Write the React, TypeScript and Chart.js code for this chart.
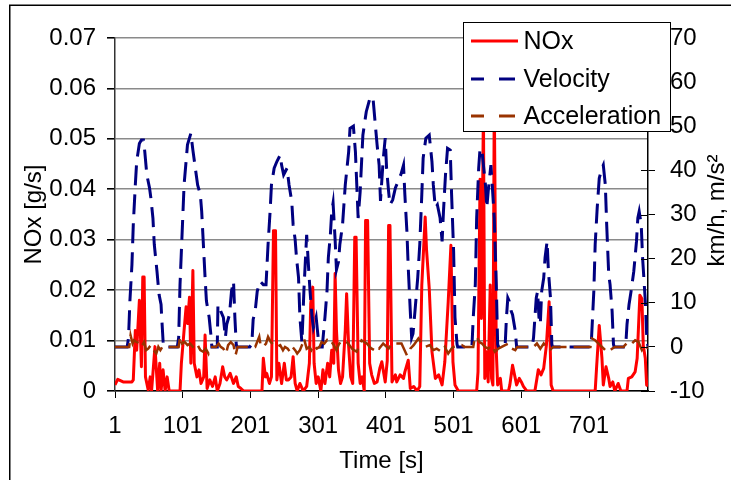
import React, { useEffect, useRef } from 'react';
import { Chart, registerables } from 'chart.js';

Chart.register(...registerables);

// ---- axis ticks ----
const X_TICKS = [1, 101, 201, 301, 401, 501, 601, 701];
const NOX_TICKS = [0, 0.01, 0.02, 0.03, 0.04, 0.05, 0.06, 0.07];
const RIGHT_TICKS = [-10, 0, 10, 20, 30, 40, 50, 60, 70];

// ---- series labels ----
const SERIES = ['NOx', 'Velocity', 'Acceleration'];
const X_TITLE = 'Time [s]';
const LEFT_TITLE = 'NOx [g/s]';
const RIGHT_TITLE = 'km/h, m/s²';

// ---- NOx [g/s] (time, value) ----
const NOX_T = [
  1, 5, 13, 21, 26, 28, 31, 33, 37, 40, 42, 44, 46, 50, 53, 55, 60, 64, 67, 69, 72, 75, 78, 81, 97,
  99, 103, 106, 108, 111, 113, 116, 118, 122, 125, 128, 132, 134, 137, 141, 145, 149, 152, 156, 160, 163, 166, 171, 176, 180, 183, 187, 191, 218,
  220, 223, 225, 229, 232, 235, 238, 240, 243, 247, 251, 254, 257, 261, 264, 267, 270, 274, 279, 284, 288, 290, 293, 295, 298,
  301, 305, 308, 311, 315, 318, 321, 324, 326, 328, 331, 334, 337, 341, 343, 346, 349, 352, 355, 357, 360, 363, 366, 369, 371, 374, 377, 380, 384, 388, 392, 395,
  400, 403, 405, 407, 410, 415, 417, 422, 427, 429, 434, 437, 442, 447, 451, 454, 459, 461, 465, 469, 474, 479, 484, 488, 493, 497,
  500, 503, 508, 535, 537, 540, 542, 545, 547, 550, 552, 555, 557, 559, 561, 564, 566, 570, 572, 582, 584, 588, 592, 594, 598,
  601, 604, 609, 621, 624, 626, 630, 634, 638, 642, 645, 648, 710, 712, 716, 720, 722, 726, 730, 732, 736, 739, 744, 748, 757, 759, 764, 769, 772, 776, 779, 781, 784, 786, 788,
];
const NOX = [
  0.0012, 0.0023, 0.0018, 0.0018, 0.0018, 0.0022, 0.012, 0.0081, 0.018, 0.0048, 0.0226, 0.0226, 0.0028, 0.0002, 0.0028, 0, 0.0088, 0, 0.0055, 0, 0.0042, 0, 0.0028, 0, 0,
  0.0055, 0.012, 0.0167, 0.0134, 0.0186, 0.0055, 0.0239, 0.0055, 0.0028, 0.0042, 0.0015, 0.0028, 0.0111, 0.0005, 0.0022, 0.0009, 0.0028, 0, 0.0015, 0.0048, 0.0028, 0.0022, 0.0035, 0.0015, 0.0028, 0.0009, 0.0005, 0, 0,
  0.0065, 0.0028, 0.0035, 0.0015, 0.0028, 0.0318, 0.0318, 0.0022, 0.0055, 0.0015, 0.0055, 0.0022, 0.0022, 0.0028, 0.0068, 0.0015, 0, 0.0015, 0, 0.0009, 0.0055, 0.0173, 0.0206, 0.0055, 0.0015,
  0.0028, 0, 0.0042, 0.0015, 0.0055, 0.0028, 0.0081, 0.0055, 0.0233, 0.0121, 0.0042, 0.0015, 0.0028, 0.0121, 0.0193, 0.0088, 0.0028, 0.0015, 0.0305, 0.0305, 0.0055, 0.0015, 0.0028, 0, 0.0338, 0.0338, 0.0055, 0.0032, 0.0015, 0.0018, 0.0045, 0.0058,
  0.0018, 0.006, 0.0328, 0.0328, 0.0018, 0.0032, 0.0018, 0.0032, 0.0025, 0.0038, 0.0061, 0.0005, 0.0009, 0, 0.0009, 0.021, 0.0345, 0.028, 0.0203, 0.0078, 0.0025, 0.0032, 0.0012, 0.0058, 0.0177, 0.0289,
  0.0058, 0.0012, 0, 0, 0.0038, 0.042, 0.0144, 0.056, 0.0025, 0.0078, 0.0018, 0.021, 0.0025, 0.0012, 0.058, 0.0078, 0.0012, 0.0025, 0, 0, 0.0012, 0.0051, 0.0025, 0.0012, 0.0025,
  0.0018, 0.0009, 0, 0, 0.0025, 0.0042, 0.0032, 0.0045, 0.0091, 0.0177, 0.0012, 0, 0, 0.0045, 0.013, 0.0065, 0.0012, 0.0048, 0.0025, 0.0009, 0.0018, 0, 0.0015, 0, 0, 0.0025, 0.0028, 0.0038, 0.0065, 0.019, 0.0183, 0.0091, 0.0065, 0.0012, 0.001,
];

// ---- Velocity [km/h] (time, value) ----
const VEL_T = [
  1, 19, 21, 23, 26, 28, 31, 33, 37, 40, 43, 45, 48, 52, 54, 57, 59, 63, 66, 69, 70, 72, 73, 93,
  95, 97, 100, 103, 108, 113, 116, 119, 123, 127, 129, 131, 134, 136, 140, 143, 144, 152,
  153, 156, 161, 164, 166, 170, 173, 176, 178, 180, 181, 200,
  203, 205, 208, 211, 215, 220, 224, 227, 230, 232, 236, 240, 245, 247, 250, 255, 258, 262, 264, 267, 269, 272, 274, 277,
  280, 284, 287, 289, 292, 294, 298, 301, 304, 307, 311, 314, 316, 319, 321, 323, 326, 328, 331, 333, 337, 341, 346, 348,
  353, 356, 358, 360, 363, 367, 372, 378, 382, 385, 388, 391, 393, 397, 400, 402, 405, 407, 411, 415, 419, 423, 427, 429,
  432, 434, 437, 439, 441, 444, 448, 451, 454, 456, 460, 465, 469, 471, 474, 477, 481, 484, 486, 489, 492, 496, 498,
  501, 503, 506, 507, 528, 530, 533, 535, 538, 540, 543, 545, 548, 550, 552, 556, 558, 561, 564, 566, 567, 577,
  579, 581, 583, 586, 588, 592, 594, 617, 619, 623, 625, 627, 629, 631, 634, 636, 639, 641, 644, 646, 647,
  704, 708, 710, 713, 716, 720, 722, 725, 727, 730, 732, 735, 737, 738, 755, 757, 760, 763, 767, 771, 773, 775, 778, 780, 784, 786, 788,
];
const VEL = [
  0, 0, 2.1, 10.4, 18.6, 27.7, 36.7, 42, 46.1, 46.9, 46.9, 44.2, 39, 36, 33.7, 29.2, 23.2, 17.1, 11.9, 9.6, 6.6, 1.3, 0, 0,
  2.1, 14.1, 25.4, 36.7, 45.8, 48.4, 44.6, 41.2, 36.7, 34.5, 30.7, 24.7, 15.7, 10.4, 6.7, 2.1, 0, 0,
  9.6, 8.5, 6.7, 2.1, 5.1, 7.3, 12.6, 14.9, 6.7, 0.6, 0, 0,
  0.6, 6.2, 8.1, 12.6, 14.9, 14.1, 14.1, 23.2, 30.7, 36.7, 40.5, 42, 43.5, 41.2, 39, 40.5, 36.7, 32.9, 27.7, 24.3, 20.2, 15.7, 6.7, 1,
  13, 25.4, 17.5, 12.6, 6.7, 4.4, 6.7, 2.1, 0, 0, 6.7, 12.6, 20.2, 25.4, 30.7, 32.6, 24.3, 17.5, 19.3, 23.2, 27.7, 36.7, 44.2, 49.5,
  50, 44.2, 36.7, 29.2, 35.2, 48, 53.3, 56.7, 56.3, 51, 45.8, 41.2, 33.1, 42.4, 47.3, 40.5, 35.2, 32.2, 33.3, 36, 37.5, 39, 41.2, 34.5,
  26.2, 17.9, 8.1, 2.1, 3, 8.2, 15.7, 23.2, 34.5, 42.8, 47.3, 48, 42, 36.7, 31.5, 32.2, 29.2, 23.9, 30.7, 39, 45, 44.6, 34.5,
  21.6, 6.7, 0.6, 0, 0, 6.7, 14.1, 29.2, 40.5, 45, 44.2, 41.2, 36.7, 31.5, 35.2, 41.2, 36.7, 29.2, 14.1, 0.6, 0, 0,
  6.7, 11.1, 10.4, 8.1, 7.3, 3.6, 0, 0, 2.1, 11.1, 12.6, 6.7, 5.1, 12.6, 15.6, 20.2, 23.9, 17.1, 11.1, 0.6, 0,
  0, 12.6, 23.2, 31.5, 38.2, 40.5, 41.2, 36.7, 27.7, 16.4, 14.1, 8.1, 0.6, 0, 0, 5.1, 9.6, 12.6, 17.1, 23.9, 29.2, 30.7, 27.7, 20.2, 10.4, 2.8, 0,
];

// ---- Acceleration [m/s²] (time, value) ----
const ACC_T = [
  1, 22, 24, 27, 29, 33, 37, 40, 44, 47, 50, 54, 58, 62, 65, 68, 71, 95,
  97, 100, 104, 108, 112, 116, 119, 123, 127, 131, 135, 139, 142, 150, 154, 157, 161, 165, 168, 172, 176, 179, 182, 208,
  210, 214, 216, 220, 224, 227, 231, 235, 240, 245, 249, 252, 256, 259, 263, 267, 270, 274, 278, 280, 284, 288, 291, 295, 299,
  303, 306, 310, 314, 317, 321, 324, 328, 332, 336, 339, 343, 347, 351, 354, 358, 362, 365, 369, 373, 377, 380, 384, 387, 391, 397,
  405, 410, 417, 424, 432, 437, 442, 449, 454, 459, 466, 471, 476, 483, 488, 493, 498, 501, 513, 517, 530, 532, 535, 539, 543, 547,
  552, 557, 562, 567, 572, 577, 582, 587, 592, 595, 619, 624, 629, 634, 639, 643, 648, 703, 705, 710, 715, 720, 725, 730, 735, 739,
  752, 754, 759, 764, 769, 774, 779, 784, 788,
];
const ACC = [
  0, 0, 2.6, 0.75, 1.5, 1.1, 0.75, 0, 1.1, -0.75, -0.4, 0.4, -0.75, -1.5, 0, -0.75, 0, 0,
  2.3, 0.75, 1.1, 0.4, 0.75, 0, -0.4, 0.4, -0.75, -1.1, -0.4, -1.5, 0, 0, 0.75, 0, -0.4, -1.5, 0.4, 1.1, 0.4, -1.9, 0, 0,
  0.75, 2.3, 0.4, 0, 0.75, 2.3, 1.1, 0.4, 0, 0.4, -0.75, 0, -0.4, -1.1, 0, -0.75, -1.5, -0.75, 0.75, 1.9, -0.4, 0, -0.75, 0.4, -0.4,
  0, 1.1, 0.75, 1.5, 0.75, 1.1, 0.4, -0.75, 0.75, 1.1, 1.5, 1.1, 0.4, -0.4, -0.75, -1.1, 0.4, 1.5, 1.1, 0.75, 0, -0.4, -0.75, 0, -0.4, 0.75,
  -0.4, 0.75, 0.75, 0.75, -1.9, -0.4, 0.4, 1.9, 0.75, 0, 0.4, -0.75, -0.4, -1.1, 0, -1.5, -0.4, 0, 0.4, 0, 0, 1.9, 2.3, 1.1, 0.75, 0,
  -0.4, 0.4, -1.1, -0.4, 0, 0.4, 0.75, -0.4, -0.75, 0, 0, 0.75, -0.4, 0.75, -0.4, -0.75, 0, 0, 1.9, 1.5, 0.75, 0, -0.75, -1.1, -0.4, 0,
  0, 0.4, 1.1, 0.75, 1.5, 1.1, -0.75, 0.4, -0.4,
];

const FONT_FAMILY = '"Liberation Sans", Arial, Helvetica, sans-serif';
const COLORS = ['#FF0000', '#000080', '#993300'];

const pts = (ts: number[], vs: number[]) => ts.map((t, i) => ({ x: t, y: vs[i] }));

const decorPlugin = {
  id: 'decor',
  afterDraw(chart: any) {
    const { ctx, chartArea, scales } = chart;
    ctx.save();
    // inner half of right-axis cross ticks
    const y2 = scales.y2;
    ctx.strokeStyle = '#000';
    ctx.lineWidth = 1;
    for (const v of RIGHT_TICKS) {
      const py = Math.round(y2.getPixelForValue(v)) + 0.5;
      ctx.beginPath();
      ctx.moveTo(chartArea.right - 7, py);
      ctx.lineTo(chartArea.right, py);
      ctx.stroke();
    }
    // right axis title (reads bottom to top)
    ctx.save();
    ctx.translate(717, (chartArea.top + chartArea.bottom) / 2 - 4);
    ctx.rotate(-Math.PI / 2);
    ctx.font = `24px ${FONT_FAMILY}`;
    ctx.fillStyle = '#000';
    ctx.textAlign = 'center';
    ctx.textBaseline = 'middle';
    ctx.fillText(RIGHT_TITLE, 0, 0);
    ctx.restore();

    // legend box
    const lx = 463.5, ly = 22.5, lw = 207, lh = 109;
    ctx.fillStyle = '#fff';
    ctx.fillRect(lx, ly, lw, lh);
    ctx.strokeStyle = '#000';
    ctx.lineWidth = 1;
    ctx.strokeRect(lx, ly, lw, lh);
    const rows = [41, 79, 116];
    ctx.font = `25px ${FONT_FAMILY}`;
    ctx.textAlign = 'left';
    ctx.textBaseline = 'middle';
    SERIES.forEach((name, i) => {
      const y = rows[i];
      ctx.strokeStyle = COLORS[i];
      ctx.lineWidth = 3;
      ctx.lineCap = 'butt';
      ctx.beginPath();
      if (i === 0) {
        ctx.moveTo(471, y);
        ctx.lineTo(518, y);
      } else {
        ctx.moveTo(471, y);
        ctx.lineTo(484, y);
        ctx.moveTo(499, y);
        ctx.lineTo(515, y);
      }
      ctx.stroke();
      ctx.fillStyle = '#000';
      ctx.fillText(name, 523.5, y + 1);
    });

    // chart-area frame (left and top edges visible)
    ctx.strokeStyle = '#000';
    ctx.lineWidth = 1.5;
    ctx.beginPath();
    ctx.moveTo(9.75, 480);
    ctx.lineTo(9.75, 5.25);
    ctx.lineTo(731, 5.25);
    ctx.stroke();
    ctx.restore();
  },
};

export default function App() {
  const ref = useRef<HTMLCanvasElement | null>(null);

  useEffect(() => {
    if (!ref.current) return;
    const font = { family: FONT_FAMILY, size: 24 };
    const chart = new Chart(ref.current, {
      type: 'line',
      data: {
        datasets: [
          {
            label: SERIES[0],
            data: pts(NOX_T, NOX),
            yAxisID: 'y',
            borderColor: COLORS[0],
            backgroundColor: COLORS[0],
            borderWidth: 3,
            pointRadius: 0,
            tension: 0,
            borderJoinStyle: 'round',
            order: 3,
          },
          {
            label: SERIES[1],
            data: pts(VEL_T, VEL),
            yAxisID: 'y2',
            borderColor: COLORS[1],
            backgroundColor: COLORS[1],
            borderWidth: 3,
            borderDash: [20, 9],
            pointRadius: 0,
            tension: 0,
            order: 2,
          },
          {
            label: SERIES[2],
            data: pts(ACC_T, ACC),
            yAxisID: 'y2',
            borderColor: COLORS[2],
            backgroundColor: COLORS[2],
            borderWidth: 2.5,
            borderDash: [18, 7],
            pointRadius: 0,
            tension: 0,
            order: 1,
          },
        ],
      },
      options: {
        animation: false,
        responsive: false,
        maintainAspectRatio: false,
        events: [],
        layout: { padding: { top: 38, left: 0, right: 0, bottom: 0 } },
        plugins: { legend: { display: false }, tooltip: { enabled: false }, title: { display: false } },
        scales: {
          x: {
            type: 'linear',
            min: 1,
            max: 788,
            afterBuildTicks: (s: any) => {
              s.ticks = X_TICKS.map((v) => ({ value: v }));
            },
            afterFit: (s: any) => {
              s.height = 89;
            },
            ticks: {
              font,
              color: '#000',
              padding: 14,
              autoSkip: false,
              maxRotation: 0,
              callback: (v: any) => String(v),
            },
            grid: { drawOnChartArea: false, tickLength: 7, color: '#000', lineWidth: 1 },
            border: { color: '#000', width: 1.5 },
            title: { display: true, text: X_TITLE, font, color: '#000', padding: { top: 0, bottom: 4 } },
          },
          y: {
            position: 'left',
            min: 0,
            max: 0.07,
            afterBuildTicks: (s: any) => {
              s.ticks = NOX_TICKS.map((v) => ({ value: v }));
            },
            afterFit: (s: any) => {
              s.width = 115;
            },
            ticks: {
              font,
              color: '#000',
              padding: 11,
              callback: (v: any) => (v === 0 ? '0' : Number(v).toFixed(2)),
            },
            grid: { color: '#8a8a8a', lineWidth: 1.6, tickColor: '#000', tickLength: 8 },
            border: { color: '#333', width: 1.5 },
            title: { display: true, text: LEFT_TITLE, font, color: '#000', padding: { top: 20, bottom: 0 } },
          },
          y2: {
            position: 'right',
            min: -10,
            max: 70,
            afterBuildTicks: (s: any) => {
              s.ticks = RIGHT_TICKS.map((v) => ({ value: v }));
            },
            afterFit: (s: any) => {
              s.width = 83;
            },
            ticks: { font, color: '#000', padding: 15, callback: (v: any) => String(v) },
            grid: { drawOnChartArea: false, tickLength: 7, color: '#000', lineWidth: 1 },
            border: { color: '#000', width: 1.5 },
          },
        },
      },
      plugins: [decorPlugin],
    } as any);
    return () => chart.destroy();
  }, []);

  return (
    <div style={{ position: 'fixed', left: 0, top: 0, width: 731, height: 480, background: '#fff' }}>
      <canvas ref={ref} width={731} height={480} style={{ display: 'block', width: 731, height: 480 }} />
    </div>
  );
}
